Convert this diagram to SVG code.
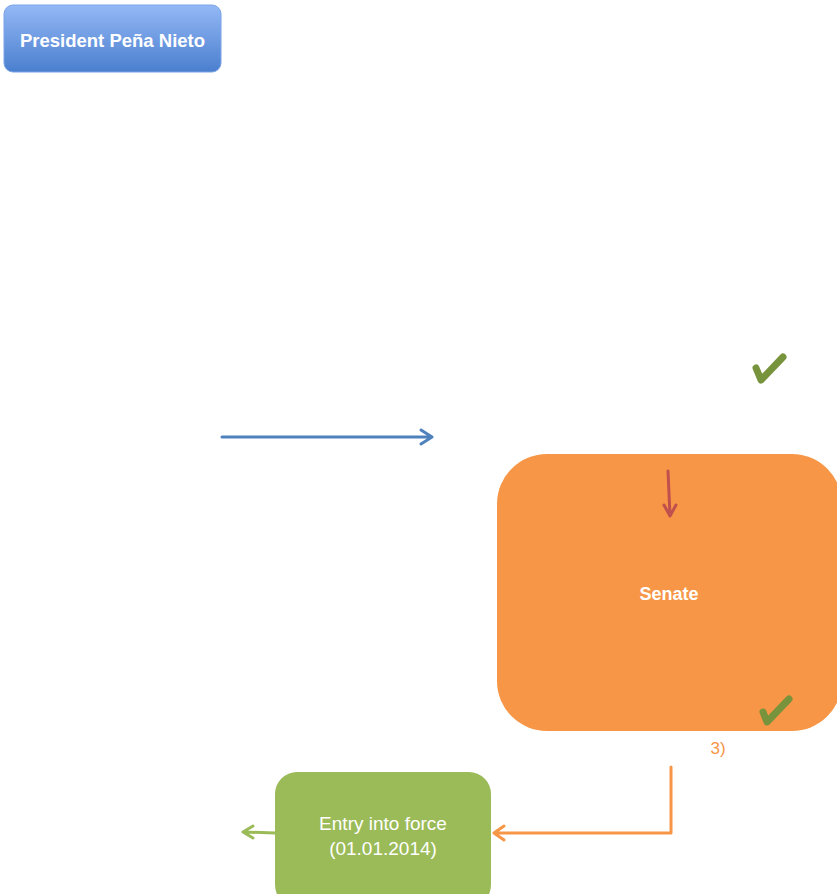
<svg xmlns="http://www.w3.org/2000/svg" width="837" height="894" viewBox="0 0 837 894">
<defs>
<linearGradient id="blueGrad" x1="0" y1="0" x2="0" y2="1">
<stop offset="0" stop-color="#94b8f6"/>
<stop offset="1" stop-color="#4a7fce"/>
</linearGradient>
</defs>
<style>
.lbl{font-family:"Liberation Sans","Open Sans",Arial,sans-serif;fill:#ffffff;text-anchor:middle}
.b{font-weight:bold}
.n{font-size:19px}
.con{fill:none;stroke-width:3;stroke-linecap:round;stroke-linejoin:round}
.check{fill:none;stroke:#77933c;stroke-width:7;stroke-linecap:round;stroke-linejoin:round}
</style>
<g id="president">
<rect x="4" y="5" width="217" height="67" rx="9" fill="url(#blueGrad)" stroke="#7aa3e5" stroke-width="1"/>
<text class="lbl b" x="112.5" y="47" font-size="18.5">President Peña Nieto</text>
</g>
<g id="senate">
<rect x="497" y="454" width="345" height="277" rx="50" fill="#f79646"/>
<text class="lbl b" x="669" y="600" font-size="18">Senate</text>
</g>
<g id="entry">
<rect x="275" y="772" width="216" height="135" rx="22" fill="#9bbb59"/>
<text class="lbl n" x="383" y="830">Entry into force</text>
<text class="lbl n" x="383" y="855">(01.01.2014)</text>
</g>
<g id="checks">
<path class="check" d="M756,368 L761,380 L783,357"/>
<path class="check" d="M763,712 L767,722 L789,699"/>
</g>
<text x="718" y="754" font-family="Liberation Sans,Open Sans,Arial,sans-serif" font-size="17" fill="#f79646" text-anchor="middle">3)</text>
<g id="connectors">
<path class="con" stroke="#4f81bd" d="M222,437 L432,437 M421,430 L432,437 L421,444"/>
<path class="con" stroke="#c0504d" d="M668,471 L670,516 M664,505 L670,516 L676,505"/>
<path class="con" stroke="#f79646" d="M671,767 L671,833 L494,833 M504,826 L494,833 L504,840"/>
<path class="con" stroke="#9bbb59" d="M275,833 L243,832 M253,826 L243,832 L253,838"/>
</g>
</svg>
